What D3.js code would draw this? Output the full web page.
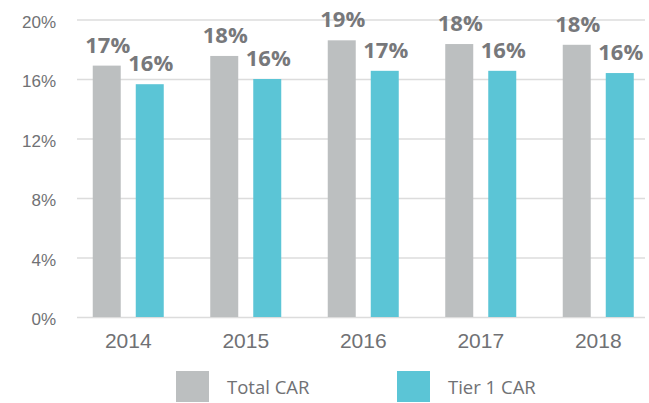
<!DOCTYPE html>
<html>
<head>
<meta charset="utf-8">
<script src="https://cdn.jsdelivr.net/npm/d3@7"></script>
<style>
  body { margin: 0; background: #fff; }
  svg { display: block; font-family: "Open Sans", sans-serif; }
</style>
</head>
<body>
<div class="chart"></div>
<script>
// data
const years = ['2014', '2015', '2016', '2017', '2018'];
const totalCar = [16.9, 17.55, 18.6, 18.35, 18.3];
const tier1Car = [15.65, 16.0, 16.55, 16.55, 16.4];
const totalLabels = ['17%', '18%', '19%', '18%', '18%'];
const tier1Labels = ['16%', '16%', '17%', '16%', '16%'];
const yTicks = [0, 4, 8, 12, 16, 20];
const seriesNames = ['Total CAR', 'Tier 1 CAR'];
const seriesColors = ['#bcbfc0', '#5bc5d6'];

const width = 649, height = 403;
const plotLeft = 77, plotRight = 645;

const svg = d3.select('.chart').append('svg')
    .attr('width', width)
    .attr('height', height);

/* Scales */
const y = d3.scaleLinear().domain([0, 20]).range([317, 19.5]);
const x0 = d3.scaleBand().domain(years).range([69.5, 657]);
const x1 = d3.scaleBand().domain(seriesNames).range([0, 71]).paddingInner(0.349);
const color = d3.scaleOrdinal().domain(seriesNames).range(seriesColors);

/* Grid + y labels */
const yAxis = d3.axisLeft(y)
    .tickValues(yTicks)
    .tickSize(-(plotRight - plotLeft))
    .tickPadding(21)
    .tickFormat(d => d + '%');

svg.append('g')
    .attr('class', 'y axis')
    .attr('transform', `translate(${plotLeft},0)`)
    .call(yAxis)
    .call(g => g.select('.domain').remove())
    .call(g => g.selectAll('line').attr('stroke', '#dcdcdc').attr('stroke-width', 1.5))
    .call(g => g.selectAll('text')
        .attr('fill', '#707174')
        .attr('font-size', 17)
        .attr('dy', '0.45em'));

/* Bars */
const rows = years.map((yr, i) => ({
    year: yr,
    values: [
        { key: seriesNames[0], value: totalCar[i], label: totalLabels[i] },
        { key: seriesNames[1], value: tier1Car[i], label: tier1Labels[i] }
    ]
}));

const groups = svg.append('g').selectAll('g')
    .data(rows).enter()
    .append('g')
    .attr('transform', d => `translate(${x0(d.year) + x0.bandwidth() / 2 - 35.5},0)`);

groups.selectAll('rect')
    .data(d => d.values).enter()
    .append('rect')
    .attr('x', d => x1(d.key))
    .attr('y', d => y(d.value))
    .attr('width', x1.bandwidth())
    .attr('height', d => y(0) - y(d.value))
    .attr('fill', d => color(d.key));

groups.selectAll('text')
    .data(d => d.values).enter()
    .append('text')
    .attr('x', d => x1(d.key) + x1.bandwidth() / 2 + 1)
    .attr('y', d => y(d.value) - 13)
    .attr('text-anchor', 'middle')
    .attr('font-size', 22)
    .attr('font-weight', 700)
    .attr('fill', '#77787b')
    .text(d => d.label);

/* x labels */
svg.append('g')
    .attr('transform', 'translate(0,317)')
    .call(d3.axisBottom(x0).tickSize(0).tickPadding(0))
    .call(g => g.select('.domain').remove())
    .call(g => g.selectAll('text')
        .attr('y', 31)
        .attr('dy', 0)
        .attr('fill', '#707174')
        .attr('font-size', 21));

/* Legend */
const legendX = [176, 397];
const legend = svg.append('g').selectAll('g')
    .data(seriesNames).enter()
    .append('g')
    .attr('transform', (d, i) => `translate(${legendX[i]},371)`);

legend.append('rect')
    .attr('width', 33)
    .attr('height', 31)
    .attr('fill', d => color(d));

legend.append('text')
    .attr('x', 51)
    .attr('y', 23)
    .attr('font-size', 18.5)
    .attr('fill', '#707174')
    .text(d => d);
</script>
</body>
</html>
